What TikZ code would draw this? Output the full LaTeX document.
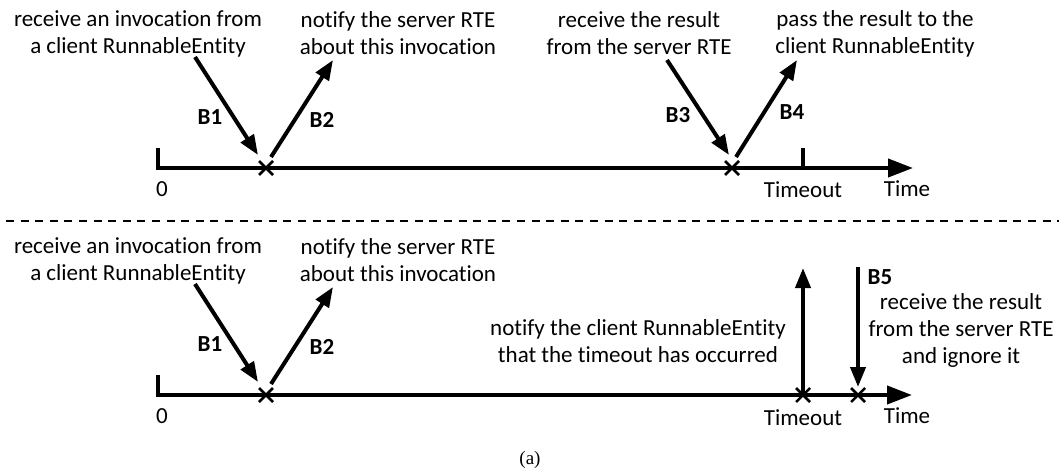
\documentclass[tikz,border=0pt]{standalone}
\usepackage{fontspec}
\setmainfont[Ligatures={NoCommon,NoContextual}]{Carlito}
\newfontfamily\capfont{Liberation Serif}
\usetikzlibrary{arrows.meta,calc}
\tikzset{
  lbl/.style={inner sep=0pt, align=center, font=\fontsize{23}{27}\selectfont},
  blbl/.style={inner sep=0pt, font=\fontsize{23}{27}\selectfont\bfseries},
  axis/.style={line width=4pt, -{Triangle[length=25pt,width=18pt]}},
  evt/.style={line width=4pt, -{Triangle[length=20pt,width=15pt]}},
  tick/.style={line width=4pt},
  xmark/.style={line width=2.5pt}
}
\newcommand{\xcross}[1]{\draw[xmark] ($(#1)+(-7,-7)$) -- ($(#1)+(7,7)$) ($(#1)+(-7,7)$) -- ($(#1)+(7,-7)$);}
\begin{document}
\begin{tikzpicture}[x=1pt,y=-1pt]
\useasboundingbox (0,0) rectangle (1059,474);

% ---------- upper timeline: result arrives before the timeout ----------
\coordinate (o1) at (158,148);
\coordinate (c1) at (158,168);
\coordinate (e1) at (913,168);
\coordinate (ta) at (266,168);
\coordinate (tb) at (732,168);
\coordinate (to1) at (803,148);
\coordinate (to1b) at (803,168);
\draw[axis] (o1) -- (c1) -- (e1);
\draw[tick] (to1) -- (to1b);
\xcross{ta}
\xcross{tb}

\node[lbl] (r1) at (138,33.5) {receive an invocation from\\a client RunnableEntity};
\node[lbl] (n1) at (398,33.5) {notify the server RTE\\about this invocation};
\node[lbl] (rr1) at (639,33.5) {receive the result\\from the server RTE};
\node[lbl] (p1) at (875,33.5) {pass the result to the\\client RunnableEntity};

\coordinate (b1s) at (195,57);  \coordinate (b1e) at (258,155);
\coordinate (b2s) at (271,157); \coordinate (b2e) at (333,60);
\coordinate (b3s) at (667,60);  \coordinate (b3e) at (729,155);
\coordinate (b4s) at (736,157); \coordinate (b4e) at (797,60);
\draw[evt] (b1s) -- (b1e);
\draw[evt] (b2s) -- (b2e);
\draw[evt] (b3s) -- (b3e);
\draw[evt] (b4s) -- (b4e);

\node[blbl] (lb1) at (210,117) {B1};
\node[blbl] (lb2) at (322,120) {B2};
\node[blbl] (lb3) at (678,115) {B3};
\node[blbl] (lb4) at (792,112) {B4};

\node[lbl] (z1) at (162,189) {0};
\node[lbl] (tm1) at (803,190) {Timeout};
\node[lbl] (ti1) at (907,189) {Time};

% ---------- separator ----------
\coordinate (sl) at (0,221);
\coordinate (sr) at (1059,221);
\draw[line width=1.2pt, dash pattern=on 8pt off 6.6pt, dash phase=-6pt] (sl) -- (sr);

% ---------- lower timeline: the timeout occurs first ----------
\coordinate (o2) at (158,375);
\coordinate (c2) at (158,395);
\coordinate (e2) at (912,395);
\coordinate (tc) at (266,395);
\coordinate (td) at (803,395);
\coordinate (te) at (858,395);
\draw[axis] (o2) -- (c2) -- (e2);
\xcross{tc}
\xcross{td}
\xcross{te}

\node[lbl] (r2) at (138,260.5) {receive an invocation from\\a client RunnableEntity};
\node[lbl] (n2) at (398,260.5) {notify the server RTE\\about this invocation};
\node[lbl] (nc2) at (638,341.5) {notify the client RunnableEntity\\that the timeout has occurred};
\node[lbl] (ig2) at (961,330) {receive the result\\from the server RTE\\and ignore it};

\coordinate (b1s2) at (195,284); \coordinate (b1e2) at (258,382);
\coordinate (b2s2) at (271,384); \coordinate (b2e2) at (333,287);
\coordinate (upe) at (803,268);
\coordinate (b5s) at (858,267);  \coordinate (b5e) at (858,387);
\draw[evt] (b1s2) -- (b1e2);
\draw[evt] (b2s2) -- (b2e2);
\draw[evt] (td) -- (upe);
\draw[evt] (b5s) -- (b5e);

\node[blbl] (lb12) at (210,344) {B1};
\node[blbl] (lb22) at (322,347) {B2};
\node[blbl] (lb5) at (880,277) {B5};

\node[lbl] (z2) at (162,416) {0};
\node[lbl] (tm2) at (803,418) {Timeout};
\node[lbl] (ti2) at (907,416) {Time};

\node[inner sep=0pt, font=\capfont\fontsize{19}{22}\selectfont] (cap) at (530,460) {(a)};
\end{tikzpicture}
\end{document}
